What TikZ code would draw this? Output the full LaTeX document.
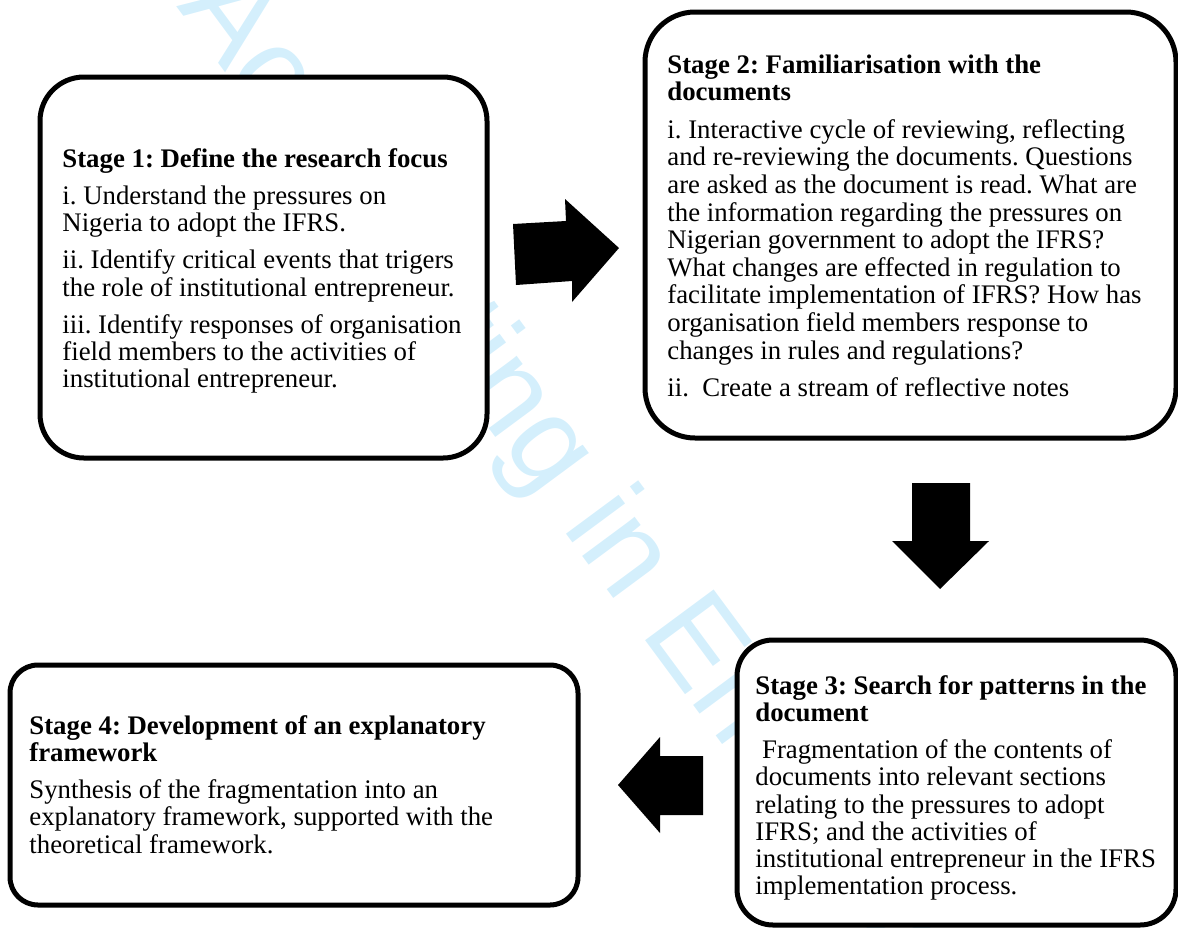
\documentclass[tikz,border=0pt]{standalone}
\usepackage{fontspec}
\setmainfont{Liberation Serif}
\newfontfamily\wmfont{Liberation Sans}
\usepackage{tikz}
\usetikzlibrary{calc}
\frenchspacing

\tikzset{
  stagebox/.style={line width=2.5pt, fill=white, draw=black},
  stagetext/.style={anchor=north west, inner sep=0pt, align=left, font=\fontsize{13.4}{13.6}\selectfont},
  blockarrow/.style={draw=none, fill=black}
}

\begin{document}
\begin{tikzpicture}[x=0.5pt,y=0.5pt,yscale=-1,xscale=1]
\useasboundingbox (0,0) rectangle (1178,927);
\clip (0,0) rectangle (1178,927);

%Watermark
\node [anchor=base west, inner sep=0pt, rotate=-53.5, text={rgb, 255:red, 212; green, 239; blue, 252}, font=\wmfont\fontsize{62}{62}\selectfont] (watermark) at (176,6) {Accounting in Emerging Economies};

%Rounded Rect [id:stage1]
\draw [stagebox, rounded corners=22pt] (40,77) rectangle (487,458);
%Rounded Rect [id:stage2]
\draw [stagebox, rounded corners=25pt] (645,12) rectangle (1176,438);
%Rounded Rect [id:stage3]
\draw [stagebox, rounded corners=18pt] (737,640) rectangle (1176,925);
%Rounded Rect [id:stage4]
\draw [stagebox, rounded corners=14pt] (10,665) rectangle (578,905);

%Shape: Right Arrow [id:arrow12]
\draw [blockarrow] (513,224) -- (566,221) -- (565,199) -- (619,248) -- (572,302) -- (572,281) -- (516,285) -- cycle ;
%Shape: Down Arrow [id:arrow23]
\draw [blockarrow] (912,483) -- (970,483) -- (970,541) -- (989,541) -- (940,589) -- (892,541) -- (912,541) -- cycle ;
%Shape: Left Arrow [id:arrow34]
\draw [blockarrow] (618,785) -- (660,737) -- (660,756) -- (703,756) -- (703,815) -- (660,815) -- (660,833) -- cycle ;

% Stage texts
\node [stagetext] (stageone) at (62,148) {\textbf{Stage 1: Define the research focus}\\[5pt]
i. Understand the pressures on\\
Nigeria to adopt the IFRS.\\[5pt]
ii. Identify critical events that trigers\\
the role of institutional entrepreneur.\\[5pt]
iii. Identify responses of organisation\\
field members to the activities of\\
institutional entrepreneur.};

\node [stagetext, font=\fontsize{13.4}{13.8}\selectfont] (stagetwo) at (667,54) {\textbf{Stage 2: Familiarisation with the}\\
\textbf{documents}\\[5pt]
i. Interactive cycle of reviewing, reflecting\\
and re-reviewing the documents. Questions\\
are asked as the document is read. What are\\
the information regarding the pressures on\\
Nigerian government to adopt the IFRS?\\
What changes are effected in regulation to\\
facilitate implementation of IFRS? How has\\
organisation field members response to\\
changes in rules and regulations?\\[5pt]
ii.\ \ Create a stream of reflective notes};

\node [stagetext] (stagethree) at (755,675) {\textbf{Stage 3: Search for patterns in the}\\
\textbf{document}\\[5pt]
\ Fragmentation of the contents of\\
documents into relevant sections\\
relating to the pressures to adopt\\
IFRS; and the activities of\\
institutional entrepreneur in the IFRS\\
implementation process.};

\node [stagetext] (stagefour) at (29,715) {\textbf{Stage 4: Development of an explanatory}\\
\textbf{framework}\\[5pt]
Synthesis of the fragmentation into an\\
explanatory framework, supported with the\\
theoretical framework.};
\end{tikzpicture}
\end{document}
